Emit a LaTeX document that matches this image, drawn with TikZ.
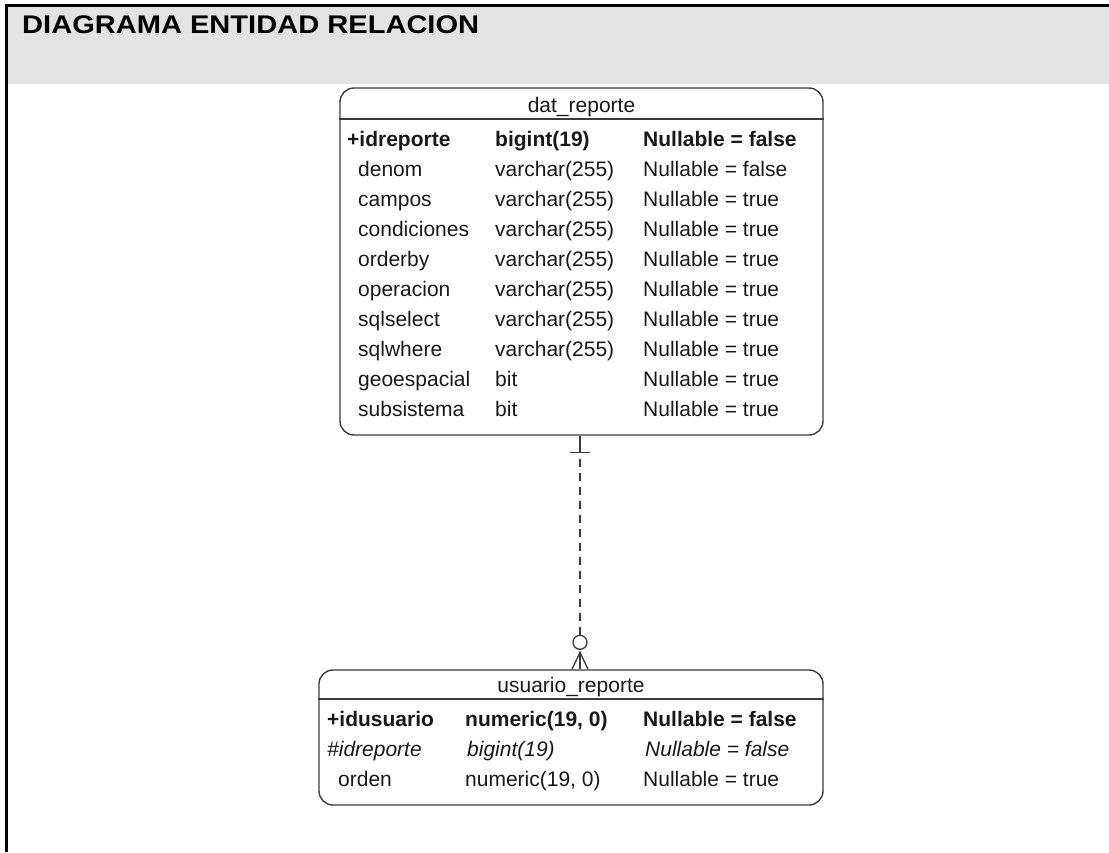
\documentclass[tikz,border=0pt]{standalone}
\usepackage{fontspec}
\setmainfont{Liberation Sans}
\newfontfamily\titlefont[FakeStretch=1.14]{Liberation Sans}
\definecolor{banda}{RGB}{227,227,227}
\definecolor{borde}{RGB}{60,60,60}
\definecolor{letra}{RGB}{25,25,25}
\tikzset{
	tabla/.style={draw=borde, line width=1.4pt, rounded corners=14pt, fill=white},
	campo/.style={anchor=base west, inner sep=0pt, text=letra, font=\fontsize{21}{24}\selectfont},
	negrita/.style={campo, font=\fontsize{21}{24}\selectfont\bfseries},
	cursiva/.style={campo, font=\fontsize{21}{24}\selectfont\itshape},
	relacion/.style={draw=borde, line width=1.3pt},
	discontinua/.style={relacion, dash pattern=on 8pt off 6pt},
}
\begin{document}
\begin{tikzpicture}[x=1pt,y=-1pt]
			\useasboundingbox (0,0) rectangle (1109,852);
			\fill[banda] (7,6) rectangle (1109,84);
			\draw[line width=2.2pt] (6.5,852) -- (6.5,5.5) -- (1109,5.5);
			\node[anchor=base west, inner sep=0pt, font=\titlefont\bfseries\fontsize{25.5}{28}\selectfont] (titulo) at (22,33) {DIAGRAMA ENTIDAD RELACION};
			\node[tabla, minimum width=483pt, minimum height=347pt] (reporte) at (581.5,261.5) {};
			\draw[relacion, line width=1.4pt] (reporte.west |- 0,119) -- (reporte.east |- 0,119);
			\node[campo, anchor=base] (reporte-nombre) at (581.5,112) {dat\_reporte};
			\node[negrita] (reporte-clave) at (347,146.5) {+idreporte};
			\node[negrita] (reporte-clavetipo) at (495,146.5) {bigint(19)};
			\node[negrita] (reporte-clavenulo) at (643,146.5) {Nullable = false};
			\foreach \nom/\tipo/\nulo [count=\i] in {denom/varchar(255)/false, campos/varchar(255)/true, condiciones/varchar(255)/true, orderby/varchar(255)/true, operacion/varchar(255)/true, sqlselect/varchar(255)/true, sqlwhere/varchar(255)/true, geoespacial/bit/true, subsistema/bit/true}{
				\node[campo] (nom\i) at (358,146.5+30*\i) {\nom};
				\node[campo] (tipo\i) at (495,146.5+30*\i) {\tipo};
				\node[campo] (nulo\i) at (643,146.5+30*\i) {Nullable = \nulo};
			}
			\node[tabla, minimum width=504pt, minimum height=135pt] (usuario) at (571,737.5) {};
			\draw[relacion, line width=1.4pt] (usuario.west |- 0,699) -- (usuario.east |- 0,699);
			\node[campo, anchor=base] (usuario-nombre) at (571,692.7) {usuario\_reporte};
			\node[negrita] (usuario-clave) at (327,726.7) {+idusuario};
			\node[negrita] (usuario-clavetipo) at (465,726.7) {numeric(19, 0)};
			\node[negrita] (usuario-clavenulo) at (643,726.7) {Nullable = false};
			\node[cursiva] (usuario-ajena) at (327,756.7) {\#idreporte};
			\node[cursiva] (usuario-ajenatipo) at (467,756.7) {bigint(19)};
			\node[cursiva] (usuario-ajenanulo) at (645,756.7) {Nullable = false};
			\node[campo] (usuario-orden) at (338,786.7) {orden};
			\node[campo] (usuario-ordentipo) at (465,786.7) {numeric(19, 0)};
			\node[campo] (usuario-ordennulo) at (643,786.7) {Nullable = true};
			\coordinate (eje) at (580,0);
			\coordinate (uno) at (reporte.south -| eje);
			\coordinate (muchos) at (usuario.north -| eje);
			\draw[relacion] (uno) -- ([shift={(0,17)}]uno);
			\draw[relacion] ([shift={(-10,17)}]uno) -- ([shift={(10,17)}]uno);
			\draw[discontinua] ([shift={(0,23)}]uno) -- ([shift={(0,-34)}]muchos);
			\draw[relacion] ([shift={(0,-27)}]muchos) circle (7);
			\draw[relacion] ([shift={(-8,0)}]muchos) -- ([shift={(0,-17)}]muchos) -- ([shift={(8,0)}]muchos);
			\draw[relacion] (muchos) -- ([shift={(0,-17)}]muchos);
\end{tikzpicture}
\end{document}
